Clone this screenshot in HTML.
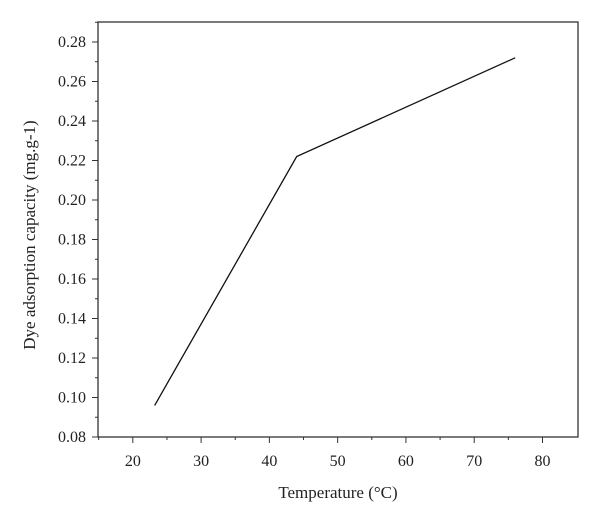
<!DOCTYPE html>
<html><head><meta charset="utf-8"><style>
body{margin:0;background:#fff;}
svg text{font-family:"Liberation Serif",serif;fill:#222;}
</style></head><body>
<svg width="600" height="522">
<g id="g"></g>
</svg>
<script>
const xTicks=[20,30,40,50,60,70,80];
const yTicks=[0.08,0.10,0.12,0.14,0.16,0.18,0.20,0.22,0.24,0.26,0.28];
const temps=[23.2,44,76];
const capacity=[0.096,0.222,0.272];
const L=98,R=578,T=22,B=437;
const xMin=14.9,xMax=85.2,yMin=0.08,yMax=0.28;
const X=v=>L+(v-xMin)/(xMax-xMin)*(R-L);
const Y=v=>B-(v-yMin)/(yMax-yMin)*(B-42);
const g=document.getElementById('g');
const NS='http://www.w3.org/2000/svg';
function mk(t,a){const e=document.createElementNS(NS,t);for(const k in a)e.setAttribute(k,a[k]);g.appendChild(e);return e;}
let f=mk('rect',{x:L,y:T,width:R-L,height:B-T,fill:'none',stroke:'#333','stroke-width':1.3});


xTicks.forEach((v,i)=>{
 let t=mk('line',{x1:X(v),x2:X(v),y1:B,y2:B+6,stroke:'#333'});
 
 
 if(i<xTicks.length-1){let m=mk('line',{x1:X(v+5),x2:X(v+5),y1:B,y2:B+3,stroke:'#333'});
 
 }
 let l=mk('text',{x:X(v),y:B+29,'text-anchor':'middle','font-size':16});l.textContent=v;
 
 
});
let m0=mk('line',{x1:X(15),x2:X(15),y1:B,y2:B+3,stroke:'#333'});


yTicks.forEach((v,i)=>{
 let t=mk('line',{x1:L-6,x2:L,y1:Y(v),y2:Y(v),stroke:'#333'});
 
 
 let m=mk('line',{x1:L-3,x2:L,y1:Y(v+0.01),y2:Y(v+0.01),stroke:'#333'});
 
 
 let l=mk('text',{x:L-12,y:Y(v)+5,'text-anchor':'end','font-size':16});l.textContent=v.toFixed(2);
 
 
});
let p=mk('polyline',{points:temps.map((t,i)=>X(t)+','+Y(capacity[i])).join(' '),fill:'none',stroke:'#111','stroke-width':1.3});


let xt=mk('text',{x:338,y:498,'text-anchor':'middle','font-size':17});xt.textContent='Temperature (°C)';


let yt=mk('text',{x:0,y:0,'text-anchor':'middle','font-size':17,transform:'translate(35,235) rotate(-90)'});yt.textContent='Dye adsorption capacity (mg.g-1)';


</script>
</body></html>
